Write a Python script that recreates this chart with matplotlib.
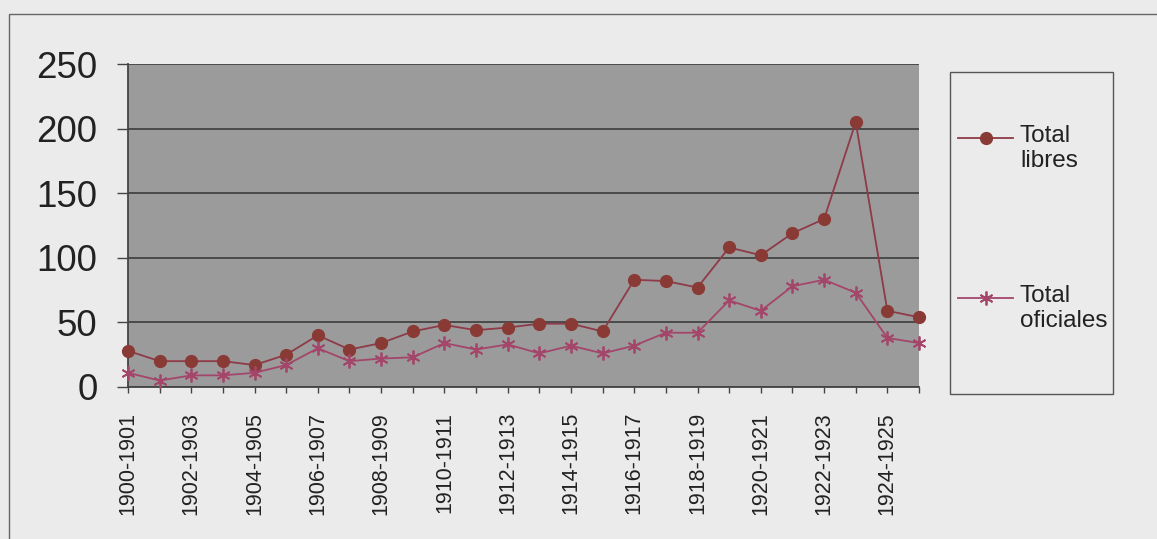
import matplotlib.pyplot as plt
from matplotlib.lines import Line2D
from matplotlib.patches import Rectangle

# curso 1900-1901 ... 1925-1926
years = [f"{y}-{y + 1}" for y in range(1900, 1926)]

total_libres = [28, 20, 20, 20, 17, 25, 40, 29, 34, 43, 48, 44, 46,
                49, 49, 43, 83, 82, 77, 108, 102, 119, 130, 205, 59, 54]
total_oficiales = [11, 5, 9, 9, 11, 17, 30, 20, 22, 23, 34, 29, 33,
                   26, 32, 26, 32, 42, 42, 67, 59, 78, 83, 73, 38, 34]

plt.rcParams["font.family"] = ["Liberation Sans", "DejaVu Sans"]

W, H = 1157, 539
fig = plt.figure(figsize=(W / 100, H / 100), dpi=100, facecolor="#ebebeb")
ax = fig.add_axes([128 / W, 1 - 387 / H, (919 - 128) / W, (387 - 64) / H])
ax.set_facecolor("#9b9b9b")

libres_style = dict(color="#8e3a48", lw=1.3, marker="o", ms=8.5,
                    mfc="#8a3a34", mec="#8a3a34")
ofic_style = dict(color="#a3466a", lw=1.3, marker=(6, 2, 0), ms=10,
                  mew=1.3, mec="#a3466a")

x = list(range(len(years)))
ax.plot(x, total_libres, clip_on=False, zorder=3, **libres_style)
ax.plot(x, total_oficiales, clip_on=False, zorder=3, **ofic_style)

ax.set_xlim(0, len(years) - 1)
ax.set_ylim(0, 250)
ax.set_yticks(range(0, 251, 50))
ax.set_xticks(x)
ax.set_xticklabels([lab if i % 2 == 0 else "" for i, lab in enumerate(years)],
                   rotation=90, fontsize=15.5, color="#222222")
ax.tick_params(axis="y", labelsize=26.5, length=8, width=1, color="#444444",
               pad=14, labelcolor="#222222")
ax.tick_params(axis="x", length=4, width=1, color="#444444", pad=14)
ax.grid(axis="y", color="#444444", lw=1.3)
ax.set_axisbelow(True)
for s in ["top", "right"]:
    ax.spines[s].set_visible(False)
for s in ["left", "bottom"]:
    ax.spines[s].set_color("#444444")
    ax.spines[s].set_linewidth(1.3)

# legend (drawn by hand so the symbol sits on the first text line)
fig.patches.append(Rectangle((950 / W, 1 - 394 / H), 163 / W, 322 / H,
                             transform=fig.transFigure, fill=False,
                             ec="#555555", lw=1))
for label, style, yh in [("Total\nlibres", libres_style, 138),
                         ("Total\noficiales", ofic_style, 298)]:
    fig.add_artist(Line2D([958 / W, 1013 / W], [1 - yh / H] * 2,
                          transform=fig.transFigure, color=style["color"], lw=1.3))
    mk = {k: v for k, v in style.items() if k not in ("color", "lw")}
    fig.add_artist(Line2D([985.5 / W], [1 - yh / H], transform=fig.transFigure,
                          ls="none", color=style["color"], **mk))
    fig.text(1020 / W, 1 - (yh - 13) / H, label, fontsize=17.5, color="#222222",
             va="top", ha="left", linespacing=1.2)

# outer chart border (left and top edges)
fig.patches.append(Rectangle((9 / W, -0.1), 1.2, 1 - 14 / H + 0.1,
                             transform=fig.transFigure, fill=False,
                             ec="#666666", lw=1))

fig.savefig("out.png", dpi=100, facecolor=fig.get_facecolor())
